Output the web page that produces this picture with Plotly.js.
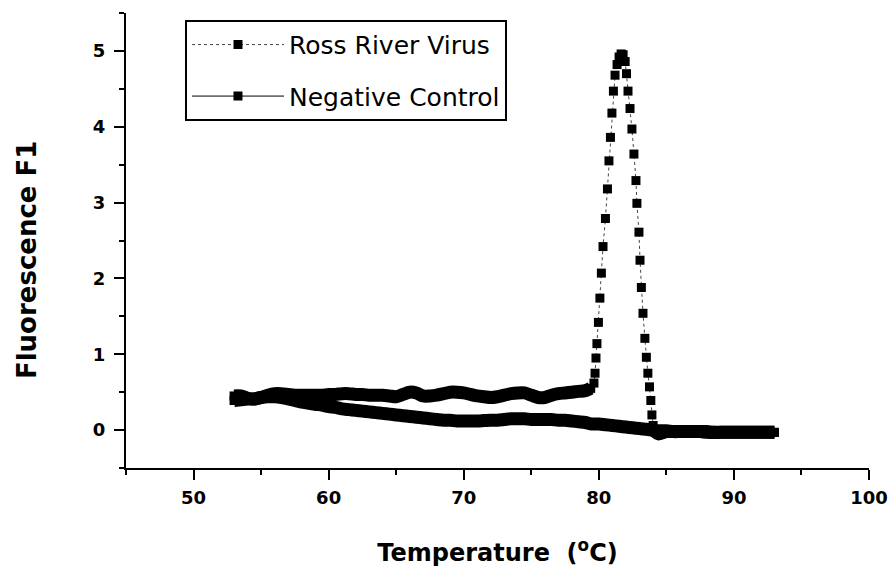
<!DOCTYPE html>
<html>
<head>
<meta charset="utf-8">
<script src="https://cdn.plot.ly/plotly-3.0.1.min.js"></script>
<style>html,body{margin:0;padding:0;background:#fff}#chart{width:888px;height:567px}</style>
</head>
<body>
<div id="chart"></div>
<script>
// Ross River Virus melt curve
const rrvT = [53.0,53.5,54.0,54.5,55.0,55.5,56.0,56.5,57.0,57.5,58.0,58.5,59.0,59.5,60.0,60.5,61.0,61.5,62.0,62.5,
  63.0,63.5,64.0,64.5,65.0,65.5,66.0,66.5,67.0,67.5,68.0,68.5,69.0,69.5,70.0,70.5,71.0,71.5,72.0,72.5,
  73.0,73.5,74.0,74.5,75.0,75.5,76.0,76.5,77.0,77.5,78.0,78.5,79.0,79.4,
  79.64,79.72,79.79,79.86,79.97,80.08,80.19,80.31,80.49,80.64,80.75,80.86,80.97,81.08,
  81.2,81.35,81.5,81.65,81.8,81.95,82.05,
  82.16,82.31,82.45,82.6,82.75,82.82,82.97,83.05,83.15,83.27,83.41,83.52,83.63,83.75,83.85,83.93,84.02,84.15,84.4,
  85.0,85.5,86.0,86.5,87.0,87.5,88.0,88.5,89.0,89.5,90.0,90.5,91.0,91.5,92.0,92.5,93.0];
const rrvF = [0.45,0.45,0.42,0.41,0.43,0.46,0.48,0.48,0.47,0.46,0.46,0.46,0.46,0.46,0.47,0.47,0.48,0.48,0.47,0.47,
  0.46,0.46,0.46,0.45,0.44,0.47,0.50,0.49,0.45,0.45,0.46,0.48,0.50,0.50,0.49,0.47,0.45,0.44,0.43,0.44,
  0.46,0.48,0.49,0.49,0.46,0.43,0.43,0.46,0.48,0.49,0.50,0.51,0.52,0.55,
  0.62,0.75,0.95,1.14,1.42,1.74,2.07,2.42,2.79,3.18,3.55,3.86,4.18,4.47,
  4.68,4.82,4.92,4.96,4.95,4.86,4.70,
  4.47,4.24,3.97,3.64,3.29,2.99,2.61,2.24,1.88,1.54,1.21,0.96,0.75,0.57,0.39,0.20,0.06,-0.02,-0.05,
  -0.02,-0.02,-0.02,-0.02,-0.02,-0.02,-0.03,-0.03,-0.03,-0.03,-0.03,-0.03,-0.03,-0.03,-0.03,-0.03,-0.03];

// Negative control melt curve
const ncT = [53.0,53.5,54.0,54.5,55.0,55.5,56.0,56.5,57.0,57.5,58.0,58.5,59.0,59.5,60.0,60.5,61.0,61.5,62.0,62.5,
  63.0,63.5,64.0,64.5,65.0,65.5,66.0,66.5,67.0,67.5,68.0,68.5,69.0,69.5,70.0,70.5,71.0,71.5,72.0,72.5,
  73.0,73.5,74.0,74.5,75.0,75.5,76.0,76.5,77.0,77.5,78.0,78.5,79.0,79.5,80.0,80.5,81.0,81.5,82.0,82.5,
  83.0,83.5,84.0,84.5,85.0,85.5,86.0,86.5,87.0,87.5,88.0,88.5,89.0,89.5,90.0,90.5,91.0,91.5,92.0,92.5,93.0];
const ncF = [0.39,0.40,0.41,0.41,0.43,0.44,0.44,0.43,0.41,0.39,0.37,0.355,0.34,0.33,0.31,0.30,0.28,0.27,0.26,0.25,
  0.24,0.23,0.22,0.21,0.20,0.19,0.18,0.17,0.16,0.15,0.14,0.13,0.13,0.12,0.12,0.12,0.12,0.125,0.13,0.13,
  0.14,0.15,0.15,0.15,0.14,0.14,0.14,0.14,0.13,0.13,0.12,0.11,0.10,0.08,0.08,0.07,0.06,0.05,0.04,0.03,
  0.02,0.01,0.00,-0.01,-0.01,-0.02,-0.02,-0.02,-0.02,-0.02,-0.02,-0.03,-0.03,-0.03,-0.03,-0.03,-0.03,-0.03,-0.03,-0.03,-0.03];

const xTicks = [50, 60, 70, 80, 90, 100];
const yTicks = [0, 1, 2, 3, 4, 5];
const seriesNames = ['Ross River Virus', 'Negative Control'];
const xTitle = 'Temperature  (<sup>o</sup>C)';
const yTitle = 'Fluorescence F1';

// baseline (non-peak) parts of the RRV curve, drawn as a dense thick band
let riseIdx = rrvF.findIndex(v => v > 0.58);
let fallIdx = rrvF.length - 1 - [...rrvF].reverse().findIndex(v => v > 0.1);
const rrvBase1T = rrvT.slice(0, riseIdx), rrvBase1F = rrvF.slice(0, riseIdx);
const rrvBase2T = rrvT.slice(fallIdx + 2), rrvBase2F = rrvF.slice(fallIdx + 2);

const FONT = 'DejaVu Sans, Verdana, sans-serif';
const band = {color: '#000', width: 13, shape: 'spline', smoothing: 0.8};

const traces = [
  {x: ncT, y: ncF, mode: 'lines', line: band, showlegend: false, hoverinfo: 'skip'},
  {x: rrvBase1T, y: rrvBase1F, mode: 'lines', line: band, showlegend: false, hoverinfo: 'skip'},
  {x: rrvBase2T, y: rrvBase2F, mode: 'lines', line: band, showlegend: false, hoverinfo: 'skip'},
  {x: rrvT, y: rrvF, name: seriesNames[0], legendgroup: 'a', mode: 'lines+markers',
   line: {color: '#444', width: 1, dash: '3px,3px'},
   marker: {symbol: 'square', size: 9, color: '#000'}},
  {x: ncT, y: ncF, name: seriesNames[1], legendgroup: 'b', mode: 'lines+markers',
   line: {color: '#000', width: 1},
   marker: {symbol: 'square', size: 9, color: '#000'}}
];

const axisCommon = {
  showgrid: false, zeroline: false, showline: true, linecolor: '#000', linewidth: 2,
  ticks: 'outside', ticklen: 10, tickwidth: 2, tickcolor: '#000',
  tickfont: {family: FONT, size: 18, color: '#000', weight: 'bold'}
};

const layout = {
  width: 888, height: 567,
  margin: {l: 126, r: 19, t: 13, b: 99},
  paper_bgcolor: '#fff', plot_bgcolor: '#fff',
  xaxis: Object.assign({}, axisCommon, {
    range: [45, 100], tickvals: xTicks, ticklabelstandoff: 2,
    minor: {dtick: 5, tick0: 0, ticklen: 5, tickwidth: 2, tickcolor: '#000', ticks: 'outside'},
    title: {text: xTitle, standoff: 38,
            font: {family: FONT, size: 24, color: '#000', weight: 'bold'}}
  }),
  yaxis: Object.assign({}, axisCommon, {
    range: [-0.5, 5.5], tickvals: yTicks, ticklabelstandoff: 5,
    minor: {dtick: 0.5, tick0: 0, ticklen: 5, tickwidth: 2, tickcolor: '#000', ticks: 'outside'}
  }),
  annotations: [{
    text: yTitle, xref: 'paper', yref: 'paper', x: -0.1332, y: 0.457,
    xanchor: 'center', yanchor: 'middle', textangle: -90, showarrow: false,
    font: {family: FONT, size: 26, color: '#000', weight: 'bold'}
  }],
  legend: {
    x: 0.0794, y: 0.985, xanchor: 'left', yanchor: 'top',
    bgcolor: '#fff', bordercolor: '#000', borderwidth: 2,
    font: {family: FONT, size: 25, color: '#000'},
    traceorder: 'grouped', tracegroupgap: 16, itemwidth: 92
  },
  showlegend: true
};

Plotly.newPlot('chart', traces, layout, {displayModeBar: false, staticPlot: true});
</script>
</body>
</html>
